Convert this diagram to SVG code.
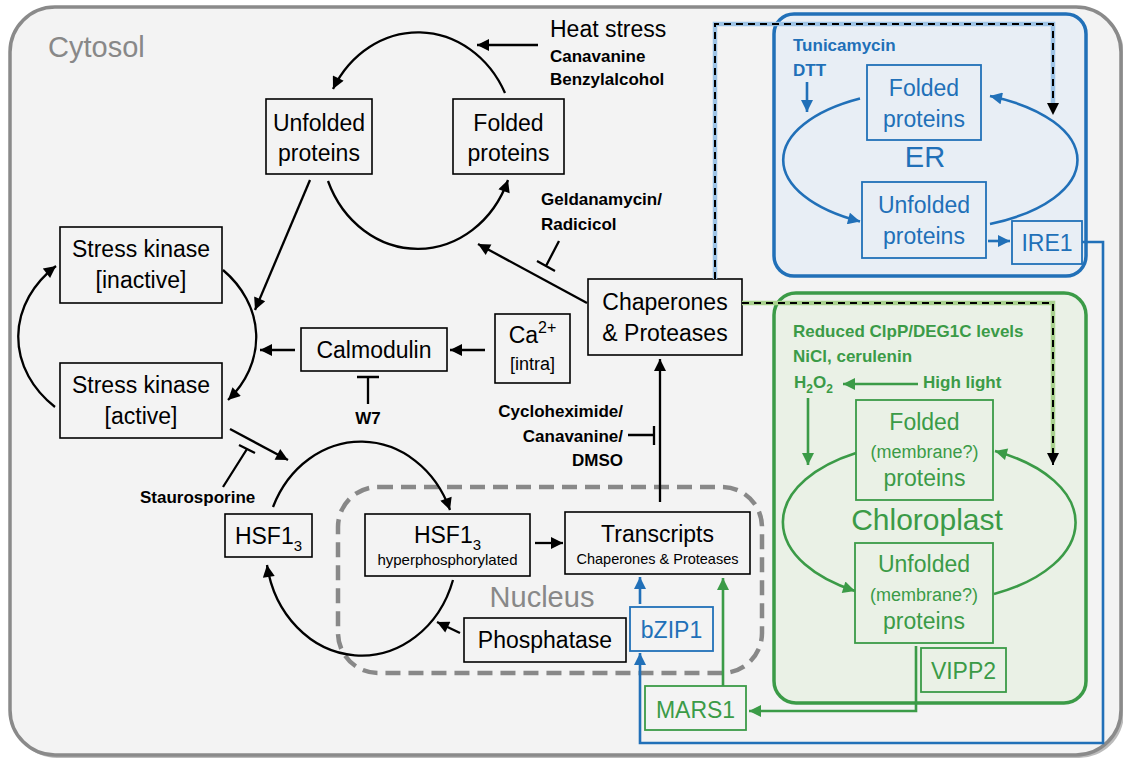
<svg xmlns="http://www.w3.org/2000/svg" width="1123" height="759" viewBox="0 0 1123 759">
<defs>
<marker id="ak" viewBox="0 0 10 10" refX="10" refY="5" markerWidth="15" markerHeight="12" markerUnits="userSpaceOnUse" orient="auto"><path d="M0,0L10,5L0,10z" fill="#000"/></marker>
<marker id="ab" viewBox="0 0 10 10" refX="10" refY="5" markerWidth="14" markerHeight="12" markerUnits="userSpaceOnUse" orient="auto"><path d="M0,0L10,5L0,10z" fill="#2170b8"/></marker>
<marker id="ag" viewBox="0 0 10 10" refX="10" refY="5" markerWidth="14" markerHeight="12" markerUnits="userSpaceOnUse" orient="auto"><path d="M0,0L10,5L0,10z" fill="#3b9b47"/></marker>
</defs>
<style>
.box{fill:none;stroke:#000;stroke-width:1.6}
.bbox{fill:none;stroke:#2170b8;stroke-width:1.8}
.gbox{fill:none;stroke:#3b9b47;stroke-width:1.8}
.t{font-family:"Liberation Sans",Arial,sans-serif;font-size:23px;fill:#000;text-anchor:middle}
.d{font-family:"Liberation Sans",Arial,sans-serif;font-size:17px;font-weight:700;fill:#000}
.tb{fill:#2170b8}
.tg{fill:#3b9b47}
.c{fill:none;stroke:#000;stroke-width:2.3}
.cb{fill:none;stroke:#2170b8;stroke-width:2.6}
.cg{fill:none;stroke:#3b9b47;stroke-width:2.6}
.lbl{font-family:"Liberation Sans",Arial,sans-serif;fill:#888;font-size:29px}
</style>

<g id="cytosol">
<rect x="12" y="9" width="1112" height="749" rx="45" fill="#777" opacity="0.5"/>
<rect x="10" y="7" width="1111" height="748" rx="45" fill="#f3f3f3" stroke="#8a8a8a" stroke-width="3.5"/>
<text class="lbl" x="48" y="57">Cytosol</text>
</g>

<g id="er">
<rect x="774" y="14" width="312" height="262" rx="20" fill="#e8eef5" stroke="#2170b8" stroke-width="3.5"/>
<text class="d tb" x="793" y="51">Tunicamycin</text>
<text class="d tb" x="793" y="76">DTT</text>
<text class="t tb" x="925" y="167" style="font-size:29px">ER</text>
</g>
<g id="er-folded"><rect class="bbox" x="867" y="65" width="114" height="75"/><text class="t tb" x="924" y="96">Folded</text><text class="t tb" x="924" y="127">proteins</text></g>
<g id="er-unfolded"><rect class="bbox" x="862" y="182" width="124" height="76"/><text class="t tb" x="924" y="213">Unfolded</text><text class="t tb" x="924" y="244">proteins</text></g>
<g id="ire1"><rect class="bbox" x="1012" y="221" width="70" height="43"/><text class="t tb" x="1047" y="251">IRE1</text></g>

<g id="chloroplast">
<rect x="774" y="293" width="312" height="410" rx="22" fill="#eaf1e6" stroke="#3b9b47" stroke-width="3.5"/>
<text class="d tg" x="793" y="337">Reduced ClpP/DEG1C levels</text>
<text class="d tg" x="793" y="362">NiCl, cerulenin</text>
<text class="d tg" x="794" y="388">H<tspan style="font-size:12px" dy="5">2</tspan><tspan dy="-5">O</tspan><tspan style="font-size:12px" dy="5">2</tspan></text>
<text class="d tg" x="923" y="388">High light</text>
<text class="t tg" x="927" y="530" style="font-size:30px">Chloroplast</text>
</g>
<g id="ch-folded"><rect class="gbox" x="856" y="400" width="137" height="100"/><text class="t tg" x="924.5" y="430">Folded</text><text class="t tg" x="924.5" y="458" style="font-size:18px">(membrane?)</text><text class="t tg" x="924.5" y="486">proteins</text></g>
<g id="ch-unfolded"><rect class="gbox" x="855" y="543" width="138" height="100"/><text class="t tg" x="924" y="572">Unfolded</text><text class="t tg" x="924" y="601" style="font-size:18px">(membrane?)</text><text class="t tg" x="924" y="629">proteins</text></g>
<g id="vipp2"><rect class="gbox" x="921" y="648" width="85" height="44"/><text class="t tg" x="963.5" y="679">VIPP2</text></g>

<g id="nucleus">
<rect x="338" y="487" width="424" height="186" rx="40" fill="none" stroke="#888" stroke-width="4.5" stroke-dasharray="15 8"/>
<text class="lbl" x="542" y="607" text-anchor="middle">Nucleus</text>
</g>

<g id="unfolded"><rect class="box" x="266" y="99" width="106" height="75"/><text class="t" x="319" y="131">Unfolded</text><text class="t" x="319" y="161">proteins</text></g>
<g id="folded"><rect class="box" x="453" y="99" width="111" height="75"/><text class="t" x="508.5" y="131">Folded</text><text class="t" x="508.5" y="161">proteins</text></g>
<g id="kinase-inactive"><rect class="box" x="60" y="227" width="162" height="76"/><text class="t" x="141" y="257">Stress kinase</text><text class="t" x="141" y="288">[inactive]</text></g>
<g id="kinase-active"><rect class="box" x="60" y="363" width="162" height="75"/><text class="t" x="141" y="393">Stress kinase</text><text class="t" x="141" y="424">[active]</text></g>
<g id="calmodulin"><rect class="box" x="301" y="328" width="146" height="43"/><text class="t" x="374" y="358">Calmodulin</text></g>
<g id="ca"><rect class="box" x="495" y="314" width="75" height="69"/><text class="t" x="532.5" y="343">Ca<tspan style="font-size:16px" dy="-10">2+</tspan></text><text class="t" x="532.5" y="370" style="font-size:18px">[intra]</text></g>
<g id="chaperones"><rect class="box" x="588" y="279" width="154" height="76"/><text class="t" x="665" y="310">Chaperones</text><text class="t" x="665" y="341">&amp; Proteases</text></g>
<g id="hsf1"><rect class="box" x="225" y="514" width="87" height="43"/><text class="t" x="268.5" y="544">HSF1<tspan style="font-size:15px" dy="7">3</tspan></text></g>
<g id="hsf1-hyper"><rect class="box" x="365" y="514" width="165" height="62"/><text class="t" x="447.5" y="543">HSF1<tspan style="font-size:15px" dy="7">3</tspan></text><text class="t" x="447.5" y="565" style="font-size:15px">hyperphosphorylated</text></g>
<g id="transcripts"><rect class="box" x="565" y="512" width="185" height="62"/><text class="t" x="657.5" y="542">Transcripts</text><text class="t" x="657.5" y="564" style="font-size:14.5px">Chaperones &amp; Proteases</text></g>
<g id="phosphatase"><rect class="box" x="464" y="618" width="162" height="44"/><text class="t" x="545" y="648">Phosphatase</text></g>
<g id="bzip1"><rect class="bbox" x="630" y="607" width="83" height="44"/><text class="t tb" x="671.5" y="638">bZIP1</text></g>
<g id="mars1"><rect class="gbox" x="645" y="686" width="101" height="44"/><text class="t tg" x="695.5" y="718">MARS1</text></g>

<g id="labels">
<text class="t" x="550" y="37" style="text-anchor:start">Heat stress</text>
<text class="d" x="550" y="62">Canavanine</text>
<text class="d" x="550" y="85">Benzylalcohol</text>
<text class="d" x="541" y="205">Geldanamycin/</text>
<text class="d" x="541" y="230">Radicicol</text>
<text class="d" x="140" y="503">Staurosporine</text>
<text class="d" x="368" y="424" text-anchor="middle">W7</text>
<text class="d" x="623" y="417" text-anchor="end">Cycloheximide/</text>
<text class="d" x="623" y="442" text-anchor="end">Canavanine/</text>
<text class="d" x="623" y="466" text-anchor="end">DMSO</text>
</g>

<g id="connectors">
<path class="c" d="M538,45H477" marker-end="url(#ak)"/>
<path class="c" d="M505,93A97,109 0 0 0 333,89" marker-end="url(#ak)"/>
<path class="c" d="M328,181A97,109 0 0 0 508,180" marker-end="url(#ak)"/>
<path class="c" d="M310,180L255,310" marker-end="url(#ak)"/>
<path class="c" d="M223,270A119,97 0 0 1 228,400" marker-end="url(#ak)"/>
<path class="c" d="M55,407A119,97 0 0 1 56,266" marker-end="url(#ak)"/>
<path class="c" d="M295,350H260" marker-end="url(#ak)"/>
<path class="c" d="M485,350H450" marker-end="url(#ak)"/>
<path class="c" d="M368,404V377M357,377H379"/>
<path class="c" d="M587,303L478,244" marker-end="url(#ak)"/>
<path class="c" d="M559,241L546,266M537,261L555,271"/>
<path class="c" d="M230,429L288,460" marker-end="url(#ak)"/>
<path class="c" d="M223,487L247,449M239,445L255,453"/>
<path class="c" d="M273,507A96,109 0 0 1 450,510" marker-end="url(#ak)"/>
<path class="c" d="M453,580A96,109 0 0 1 267,565" marker-end="url(#ak)"/>
<path class="c" d="M460,633L437,622" marker-end="url(#ak)"/>
<path class="c" d="M535,543H563" marker-end="url(#ak)"/>
<path class="c" d="M660,502V359" marker-end="url(#ak)"/>
<path class="c" d="M628,435H654M654,426V445"/>

<path d="M715,279V24H1053V108" fill="none" stroke="#9dc3e6" stroke-width="4.5"/>
<path d="M715,279V24H1053V115" fill="none" stroke="#000" stroke-width="2" stroke-dasharray="7 5" marker-end="url(#ak)"/>
<path d="M742,303H1053V458" fill="none" stroke="#a9d18e" stroke-width="4.5"/>
<path d="M742,303H1053V465" fill="none" stroke="#000" stroke-width="2" stroke-dasharray="7 5" marker-end="url(#ak)"/>

<path class="cb" d="M860,98.5A147,70 0 0 0 860,221.5" marker-end="url(#ab)"/>
<path class="cb" d="M990,224A147,70 0 0 0 990,96" marker-end="url(#ab)"/>
<path class="cb" d="M807,82V112" marker-end="url(#ab)"/>
<path class="cb" d="M988,241H1010" marker-end="url(#ab)"/>
<path class="cb" d="M1082,242H1103V743H640V653" marker-end="url(#ab)"/>
<path class="cb" d="M640,604V577" marker-end="url(#ab)"/>

<path class="cg" d="M856,453A147,80 0 0 0 855,591" marker-end="url(#ag)"/>
<path class="cg" d="M994,594A147,80 0 0 0 995,451" marker-end="url(#ag)"/>
<path class="cg" d="M918,384H843" marker-end="url(#ag)"/>
<path class="cg" d="M808,398V465" marker-end="url(#ag)"/>
<path class="cg" d="M916,646V711H749" marker-end="url(#ag)"/>
<path class="cg" d="M723,686V578" marker-end="url(#ag)"/>
</g>
</svg>
